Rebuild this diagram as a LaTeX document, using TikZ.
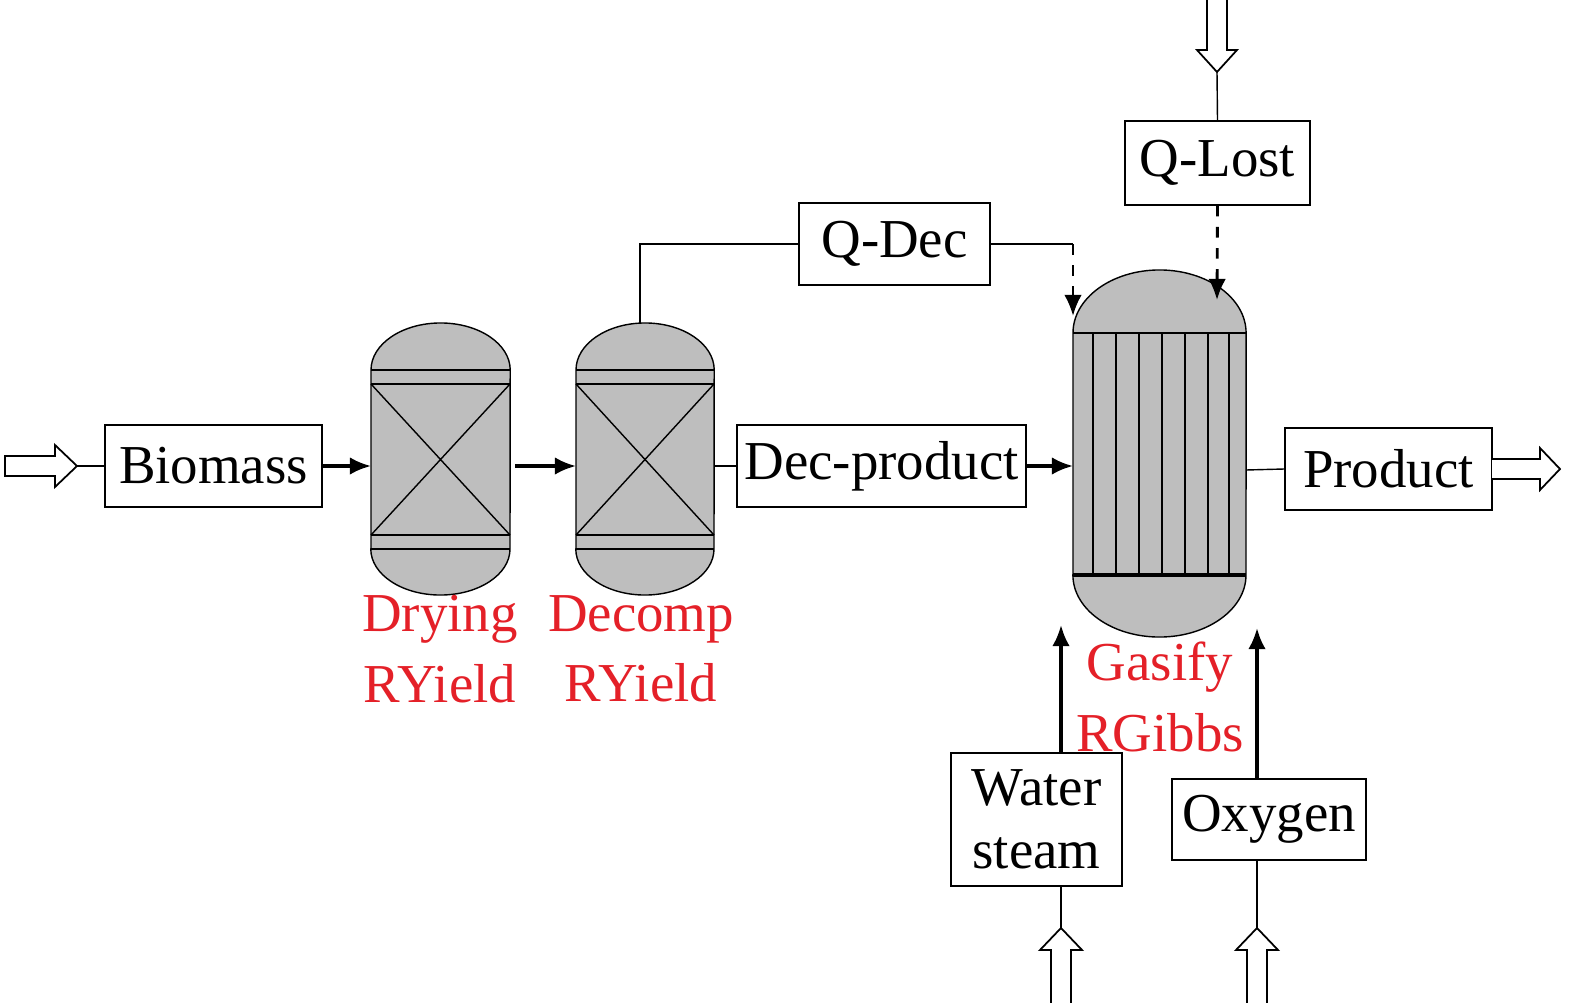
\documentclass[tikz,border=0pt]{standalone}
\usepackage{fontspec}
\setmainfont{Liberation Serif}
\usetikzlibrary{arrows.meta}
\definecolor{lab}{RGB}{228,32,40}
\definecolor{vessel}{RGB}{190,190,190}
\begin{document}
\begin{tikzpicture}[x=0.01cm,y=-0.01cm,
  box/.style={draw,line width=0.5pt,inner sep=0pt,font=\fontsize{15.6}{18}\selectfont},
  lbl/.style={text=lab,font=\fontsize{15.6}{20}\selectfont,align=center},
  thin/.style={line width=0.4pt},
  flow/.style={line width=1pt,-{Latex[length=6pt,width=5pt]}},
  dflow/.style={line width=0.8pt,dashed,-{Latex[length=6pt,width=5pt]}},
  open/.style={draw,line width=0.5pt,fill=white}]
\useasboundingbox (0,0) rectangle (1575,1003);
% boxes
\node[box,minimum width=217*0.01cm,minimum height=82*0.01cm] (bio) at (213.5,466) {Biomass};
\node[box,minimum width=191*0.01cm,minimum height=82*0.01cm] (qdec) at (894.5,244) {Q-Dec};
\node[box,minimum width=185*0.01cm,minimum height=84*0.01cm] (qlost) at (1217.5,163) {Q-Lost};
\node[box,minimum width=289*0.01cm,minimum height=82*0.01cm] (dec) at (881.5,466) {Dec-product};
\node[box,minimum width=207*0.01cm,minimum height=82*0.01cm] (prod) at (1388.5,469) {Product};
\node[box,minimum width=171*0.01cm,minimum height=133*0.01cm,align=center] (water) at (1036.5,819.5) {Water\\steam};
\node[box,minimum width=194*0.01cm,minimum height=81*0.01cm] (oxy) at (1269,819.5) {Oxygen};
% reactors
\foreach \n/\xa/\xb in {dry/371/510,dcp/576/714}{
  \filldraw[fill=vessel,thin] (\xa,549) -- (\xa,370) arc[start angle=180,end angle=0,x radius={(\xb-\xa)*0.005cm},y radius=0.47cm] -- (\xb,549) arc[start angle=0,end angle=-180,x radius={(\xb-\xa)*0.005cm},y radius=0.46cm] -- cycle;
  \draw[thin] (\xa,370) -- (\xb,370) (\xa,384) -- (\xb,384) (\xa,535) -- (\xb,535);
  \draw[line width=0.8pt] (\xa,549) -- (\xb,549);
  \draw[thin] (\xa,384) -- (\xb,535) (\xa,535) -- (\xb,384);
  \coordinate (\n W) at (\xa,466); \coordinate (\n E) at (\xb,466);
}
\coordinate (dcpT) at (640,323);
\filldraw[fill=vessel,thin] (1073,575) -- (1073,333) arc[start angle=180,end angle=0,x radius=0.865cm,y radius=0.63cm] -- (1246,575) arc[start angle=0,end angle=-180,x radius=0.865cm,y radius=0.62cm] -- cycle;
\draw[thin] (1073,333) -- (1246,333);
\draw[line width=0.9pt] (1073,575) -- (1246,575);
\foreach \x in {1093,1116,1139,1162,1185,1208,1229} \draw[thin] (\x,333) -- (\x,575);
\coordinate (gasW) at (1073,466);
\coordinate (gasE) at (1246,470);
% labels
\node[lbl] (l1) at (440,649) {Drying\\RYield};
\node[lbl] (l2) at (641,649) {Decomp\\RYield};
\node[lbl] (l3) at (1160,697) {Gasify\\RGibbs};
% connectors
\coordinate (inL) at (77,466);
\draw[thin] (inL) -- (bio.west);
\draw[open] (5,456) -- (55,456) -- (55,445) -- (77,466) -- (55,487) -- (55,476) -- (5,476) -- cycle;
\draw[flow] (bio.east) -- (dryW);
\draw[flow] (515,466) -- (dcpW);
\draw[thin] (dcpT) |- (qdec.west);
\coordinate (qd1) at (1073,244);
\draw[thin] (qdec.east) -- (qd1);
\draw[dflow] (qd1) -- (1073,316);
\draw[dflow] (qlost.south) -- (1217,300);
\coordinate (ql1) at (1217,72);
\draw[thin] (qlost.north) -- (ql1);
\draw[open] (1207,0) -- (1207,50) -- (1197,50) -- (1217,72) -- (1237,50) -- (1227,50) -- (1227,0);
\draw[thin] (dcpE) -- (dec.west);
\draw[flow] (dec.east) -- (gasW);
\draw[thin] (gasE) -- (prod.west);
\draw[open] (1492,459) -- (1540,459) -- (1540,448) -- (1560,469) -- (1540,490) -- (1540,479) -- (1492,479);
\draw[flow] (1061,753) -- (1061,625);
\draw[flow] (1257,779) -- (1257,628);
\draw[thin] (water.south -| 1061,0) -- (1061,930);
\draw[thin] (oxy.south -| 1257,0) -- (1257,930);
\foreach \x in {1061,1257}
  \draw[open] (\x-10,1003) -- (\x-10,950) -- (\x-21,950) -- (\x,928) -- (\x+21,950) -- (\x+10,950) -- (\x+10,1003);
\end{tikzpicture}
\end{document}
